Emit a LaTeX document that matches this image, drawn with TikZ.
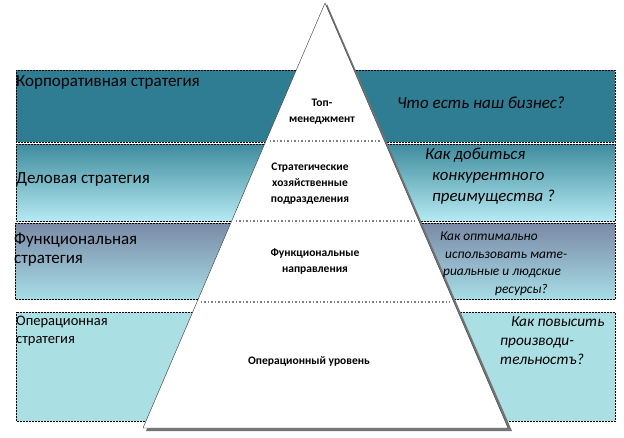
\documentclass[tikz,border=0pt]{standalone}
\usepackage{fontspec}
\setmainfont{Carlito}
\usetikzlibrary{calc}
\definecolor{corpteal}{RGB}{47,125,147}
\definecolor{busitop}{RGB}{62,140,158}
\definecolor{busibot}{RGB}{182,234,242}
\definecolor{functop}{RGB}{122,138,166}
\definecolor{funcbot}{RGB}{166,221,230}
\definecolor{opercyan}{RGB}{170,223,228}
\tikzstyle{band} = [
  densely dotted,
  draw=black,
  line width=0.5pt,
]
\tikzstyle{level} = [
  align=center,
  inner sep=0pt,
  font=\fontsize{11.5}{16}\selectfont\bfseries,
]
\tikzstyle{strategy} = [
  anchor=west,
  align=left,
  inner sep=0pt,
]
\tikzstyle{question} = [
  anchor=north west,
  align=left,
  inner sep=0pt,
]

\begin{document}
\begin{tikzpicture}[x=1pt,y=-1pt]

        \useasboundingbox (0,0) rectangle (624,437);

        % strategy bands
        \fill [corpteal] (16,70) rectangle (615,142);
        \shade [top color=busitop, bottom color=busibot] (16,144) rectangle (615,221);
        \shade [top color=functop, bottom color=funcbot] (15,223) rectangle (615,299);
        \fill [opercyan] (16,312) rectangle (615,421);

        \draw [band] (16,70) rectangle (615,142);
        \draw [band] (16,144) rectangle (615,221);
        \draw [band] (15,223) rectangle (615,299);
        \draw [band] (16,312) rectangle (615,421);

        % pyramid
        \coordinate (apex) at (325,3);
        \coordinate (bl) at (143,428);
        \coordinate (br) at (508,428);

        \fill [black!55] ($(apex)+(2,1)$) -- ($(br)+(4,3)$) -- ($(bl)+(3,3)$) -- cycle;
        \filldraw [fill=white, draw=black!80, line width=0.4pt] (apex) -- (br) -- (bl) -- cycle;

        \foreach \t in {0.325,0.513,0.704} {
          \draw [black!50, dotted, line width=1.5pt, shorten <=4pt, shorten >=4pt]
                ($(apex)!\t!(bl)$) -- ($(apex)!\t!(br)$);
        }

        \node [level] (top) at (322,112) {Топ-\\менеджмент};
        \node [level] (sbu) at (310,184) {Стратегические\\хозяйственные\\подразделения};
        \node [level] (func) at (315,261.5) {Функциональные\\направления};
        \node [level] (oper) at (309,361) {Операционный уровень};

        % left labels
        \node [strategy, font=\fontsize{17}{19}\selectfont] (corp) at (16,82) {Корпоративная стратегия};
        \node [strategy, font=\fontsize{17}{19}\selectfont] (busi) at (16,179) {Деловая стратегия};
        \node [strategy, font=\fontsize{17}{19}\selectfont] (funcs) at (14,249.5) {Функциональная\\ стратегия};
        \node [strategy, font=\fontsize{14.5}{18}\selectfont] (opers) at (16,331) {Операционная\\стратегия};

        % questions
        \node [strategy, font=\fontsize{17}{20}\selectfont\itshape] (q1) at (397,103) {Что есть наш бизнес?};
        \node [question, font=\fontsize{16.8}{21}\selectfont\itshape] (q2) at (425,148)
              {Как добиться\\\hspace*{7pt}конкурентного\\\hspace*{7pt}преимущества ?};
        \node [question, font=\fontsize{13.4}{17.5}\selectfont\itshape] (q3) at (440,232)
              {Как оптимально\\\hspace*{5pt}использовать мате-\\\hspace*{3pt}риальные и людские\\\hspace*{55pt}ресурсы?};
        \node [question, font=\fontsize{15.3}{19}\selectfont\itshape] (q4) at (500,316)
              {\hspace*{11pt}Как повысить\\производи-\\тельностъ?};

\end{tikzpicture}
\end{document}
